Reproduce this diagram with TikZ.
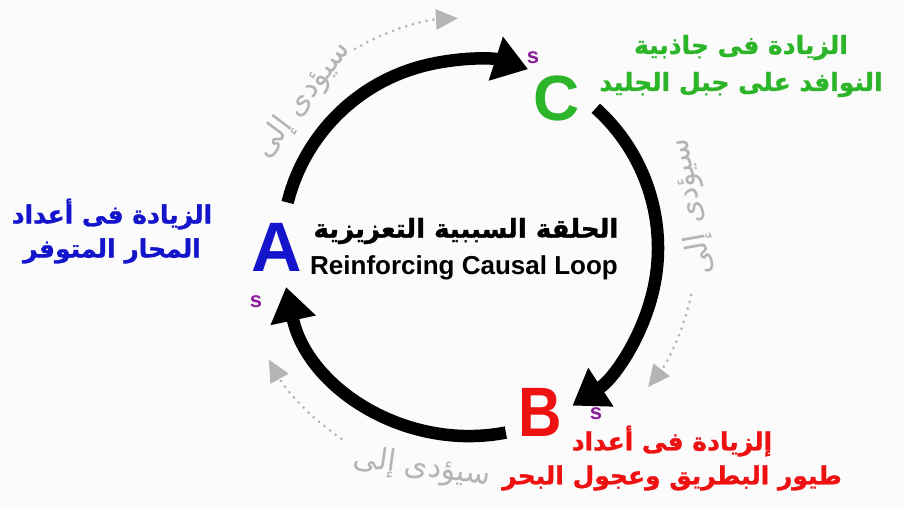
\documentclass[tikz,border=0pt]{standalone}
\usepackage{fontspec}
\setmainfont{Liberation Sans}
\newfontfamily\arabicfont[Script=Arabic]{DejaVu Sans}
\newfontfamily\arabicheavy[Script=Arabic, FakeBold=1.2]{DejaVu Sans Bold}
\TeXXeTstate=1
\usetikzlibrary{arrows.meta, positioning}
\definecolor{bgwhite}{HTML}{FCFBFC}
\definecolor{hintgray}{HTML}{B4B4B4}
\definecolor{signpurple}{HTML}{8A1F9A}
\definecolor{oysterblue}{HTML}{1414CC}
\definecolor{penguinred}{HTML}{EE1111}
\definecolor{icegreen}{HTML}{2DB52A}

\begin{document}
\begin{tikzpicture}
    [
        x=1pt, y=1pt,
        letter/.style={font=\bfseries\fontsize{70}{70}\selectfont, inner sep=0pt},
        sign/.style={font=\bfseries\fontsize{22}{22}\selectfont, text=signpurple, inner sep=0pt},
        caption/.style={font=\arabicheavy\fontsize{25}{34}\selectfont, align=center, inner sep=0pt},
        link/.style={draw=black, line width=12.5pt, -{Triangle[length=34pt, width=44pt]}},
        hint/.style={draw=hintgray, line width=3pt, line cap=round, dash pattern=on 0pt off 7pt, -{Triangle[length=22pt, width=20pt]}},
        hinttext/.style={font=\arabicfont\fontsize{30}{30}\selectfont, text=hintgray, inner sep=0pt},
    ]
    \fill[bgwhite] (0,0) rectangle (904,510);
    \coordinate (ctr) at (470,262);

    % the three variables
    \node (A) at (277,263) [letter, text=oysterblue] {A};
    \node (B) at (540,98) [letter, text=penguinred, xscale=0.86] {B};
    \node (C) at (557,412) [letter, text=icegreen, font=\bfseries\fontsize{64}{64}\selectfont] {C};
    \node (A sign) at (256,208) [sign] {s};
    \node (B sign) at (596,96) [sign] {s};
    \node (C sign) at (533,452) [sign] {s};

    \node (oysters) at (112,279) [caption, text=oysterblue] {\beginR الزيادة فى أعداد\endR\\\beginR المحار المتوفر\endR};
    \node (penguins) at (672,52) [caption, text=penguinred] {\beginR إلزيادة فى أعداد\endR\\\beginR طيور البطريق وعجول البحر\endR};
    \node (iceberg) at (741,444) [caption, text=icegreen, font=\arabicheavy\fontsize{25}{37}\selectfont] {\beginR الزيادة فى جاذبية\endR\\\beginR النوافد على جبل الجليد\endR};

    \node (title) at (466,279) [font=\arabicheavy\fontsize{26}{26}\selectfont] {\beginR الحلقة السببية التعزيزية\endR};
    \node (subtitle) at (464,242) [font=\bfseries\fontsize{26}{26}\selectfont] {Reinforcing Causal Loop};

    % the loop
    \coordinate (A out) at ([shift={(166:188)}]ctr);
    \coordinate (C out) at ([shift={(48:188)}]ctr);
    \coordinate (B out) at ([shift={(-79:188)}]ctr);
    \draw[link] (A out) arc[start angle=166, end angle=72, radius=188pt];
    \draw[link] (C out) arc[start angle=48, end angle=-57, radius=188pt];
    \draw[link] (B out) arc[start angle=-79, end angle=-168, radius=188pt];

    % grey hints outside
    \coordinate (AC hint) at ([shift={(120:230)}]ctr);
    \coordinate (CB hint) at ([shift={(-12:226)}]ctr);
    \coordinate (BA hint) at ([shift={(-124:230)}]ctr);
    \draw[hint] (AC hint) arc[start angle=120, end angle=93, radius=230pt];
    \draw[hint] (CB hint) arc[start angle=-12, end angle=-38, radius=226pt];
    \draw[hint] (BA hint) arc[start angle=-124, end angle=-151, radius=230pt];
    \node (AC text) at (303,410) [hinttext, rotate=53] {\beginR سيؤدى إلى\endR};
    \node (CB text) at (692,303) [hinttext, rotate=100] {\beginR سيؤدى إلى\endR};
    \node (BA text) at (422,42) [hinttext, rotate=-8] {\beginR سيؤدى إلى\endR};
\end{tikzpicture}
\end{document}
